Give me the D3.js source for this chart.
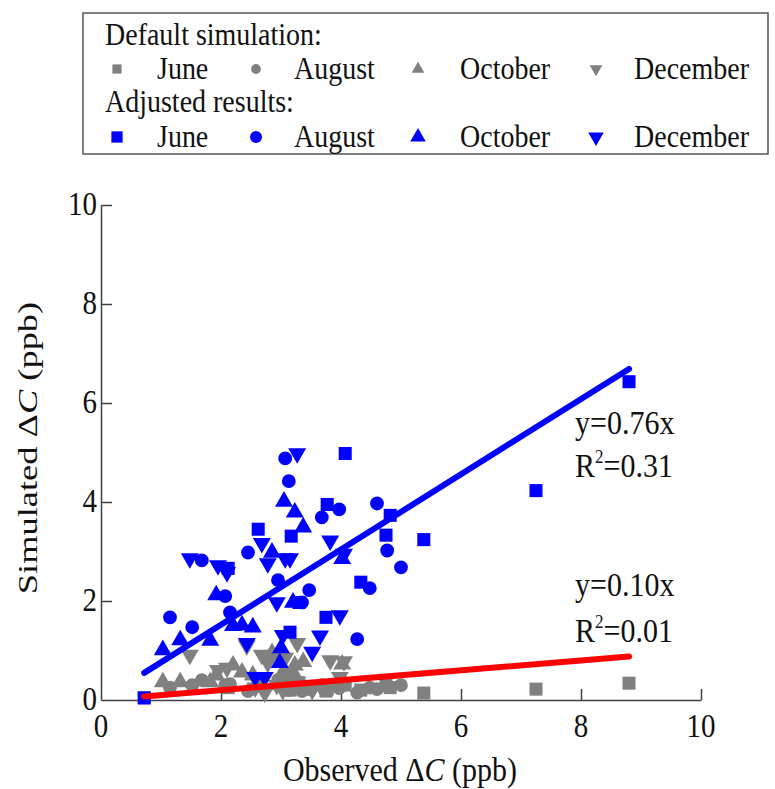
<!DOCTYPE html>
<html>
<head>
<meta charset="utf-8">
<script src="https://cdn.jsdelivr.net/npm/d3@7"></script>
<style>
  body { margin: 0; background: #fff; }
  text { font-family: "Liberation Serif", "Times New Roman", serif; fill: #111; }
</style>
</head>
<body>
<svg id="chart" width="775" height="789"></svg>
<script>
// observed, default simulated, adjusted simulated (ppb)
var juneObs      = [8.8, 7.25, 5.38, 4.82, 4.75, 4.33, 4.07, 3.77, 3.75, 3.17, 3.15, 2.62, 2.12, 3.3, 0.72];
var juneDefault  = [0.34, 0.22, 0.14, 0.25, 0.3, 0.2, 0.3, 0.22, 0.18, 0.3, 0.2, 0.28, 0.25, 0.35, 0.05];
var juneAdjusted = [6.43, 4.23, 3.24, 3.73, 3.33, 2.38, 4.98, 3.95, 1.67, 3.31, 1.37, 3.45, 2.66, 1.97, 0.04];

var augObs      = [3.07, 3.13, 4.6, 3.97, 3.68, 4.77, 5.0, 2.45, 2.95, 4.48, 3.47, 1.68, 2.07, 3.35, 2.15, 1.15, 1.52, 4.27];
var augDefault  = [0.35, 0.2, 0.22, 0.24, 0.3, 0.28, 0.3, 0.18, 0.4, 0.25, 0.22, 0.4, 0.3, 0.18, 0.32, 0.25, 0.3, 0.15];
var augAdjusted = [4.88, 4.42, 3.97, 3.85, 3.69, 3.02, 2.68, 2.98, 2.42, 2.26, 2.22, 2.82, 2.1, 1.97, 1.77, 1.67, 1.47, 1.23];

var octObs      = [3.05, 3.23, 3.37, 4.02, 2.85, 1.92, 3.2, 2.35, 2.53, 1.32, 1.03, 3.0, 2.98, 1.82, 2.2];
var octDefault  = [0.6, 0.7, 0.77, 0.72, 0.95, 0.5, 0.56, 0.56, 0.5, 0.36, 0.36, 0.45, 0.3, 0.36, 0.7];
var octAdjusted = [4.01, 3.79, 3.49, 2.85, 2.98, 2.12, 1.97, 1.51, 1.47, 1.21, 1.01, 1.05, 0.75, 1.2, 1.5];

var decObs      = [3.27, 3.82, 4.05, 3.07, 3.15, 2.68, 2.78, 1.48, 1.95, 2.1, 2.93, 3.98, 2.43, 3.52, 2.57, 2.73, 3.65, 3.03];
var decDefault  = [1.15, 0.8, 0.78, 0.85, 0.4, 0.91, 0.75, 0.91, 0.6, 0.65, 0.3, 0.46, 1.1, 0.2, 0.25, 0.15, 0.3, 0.2];
var decAdjusted = [4.98, 3.22, 2.95, 2.86, 2.86, 3.17, 2.76, 2.86, 2.72, 2.58, 1.97, 1.71, 1.15, 0.97, 0.46, 0.46, 1.3, 1.31];

var months = ["June", "August", "October", "December"];
var fitSlopes = [0.10, 0.76];
var fitR2 = ["0.01", "0.31"];
var fitRange = [0.72, 8.8];
var xTicks = [0, 2, 4, 6, 8, 10];
var yTicks = [0, 2, 4, 6, 8, 10];

var svg = d3.select("#chart");
var x = d3.scaleLinear().domain([0, 10]).range([101, 701]);
var y = d3.scaleLinear().domain([0, 10]).range([700, 205]);
var K = 1.15; // the source figure's text is a little taller than wide

var shapes = [d3.symbolSquare, d3.symbolCircle, d3.symbolTriangle, d3.symbolTriangle];
var rot = [0, 0, 0, 180];
var sizes = [170, 150, 140, 140];
var gray = "#808080", blue = "#0000ff", axisCol = "#404040";

var series = [
  {obs: juneObs, def: juneDefault, adj: juneAdjusted},
  {obs: augObs, def: augDefault, adj: augAdjusted},
  {obs: octObs, def: octDefault, adj: octAdjusted},
  {obs: decObs, def: decDefault, adj: decAdjusted}
];

function label(px, py, size, anchor) {
  return svg.append("text")
    .attr("transform", "translate(" + px + "," + py + ") scale(1," + K + ")")
    .attr("text-anchor", anchor || "start")
    .style("font-size", size + "px");
}

// axes (labels drawn separately)
var xAxis = d3.axisBottom(x).tickValues(xTicks).tickSizeInner(-11).tickSizeOuter(0).tickFormat("");
var gx = svg.append("g").attr("transform", "translate(0,700)").call(xAxis);
var yAxis = d3.axisLeft(y).tickValues(yTicks).tickSizeInner(-11).tickSizeOuter(0).tickFormat("");
var gy = svg.append("g").attr("transform", "translate(101,0)").call(yAxis);
[gx, gy].forEach(function(g) {
  g.select(".domain").attr("stroke", axisCol).attr("stroke-width", 1.5);
  g.selectAll(".tick line").attr("stroke", axisCol).attr("stroke-width", 1.5);
});
gx.selectAll(".tick").filter(function(d) { return d === 0; }).select("line").remove();
gy.selectAll(".tick").filter(function(d) { return d === 0; }).select("line").remove();

xTicks.forEach(function(t) { label(x(t), 737, 29, "middle").text(t); });
yTicks.forEach(function(t) { label(97, y(t) + 10, 29, "end").text(t); });

// points: default then adjusted
function drawPoints(key, color) {
  series.forEach(function(s, i) {
    svg.append("g").selectAll("path")
      .data(s.obs.map(function(o, j) { return [o, s[key][j]]; }))
      .enter().append("path")
      .attr("d", d3.symbol().type(shapes[i]).size(sizes[i]))
      .attr("transform", function(d) {
        return "translate(" + x(d[0]) + "," + y(d[1]) + ") rotate(" + rot[i] + ")";
      })
      .attr("fill", color);
  });
}
drawPoints("def", gray);
drawPoints("adj", blue);

// fit lines
var fitColors = ["#ff0000", "#0000ff"];
fitSlopes.forEach(function(k, i) {
  svg.append("line")
    .attr("x1", x(fitRange[0])).attr("y1", y(k * fitRange[0]))
    .attr("x2", x(fitRange[1])).attr("y2", y(k * fitRange[1]))
    .attr("stroke", fitColors[i]).attr("stroke-width", 6).attr("stroke-linecap", "round");
});

// equations
var eqY = [[596, 642], [434, 477]];
fitSlopes.forEach(function(k, i) {
  label(575, eqY[i][0], 30).text("y=" + k.toFixed(2) + "x");
  var t = label(575, eqY[i][1], 30);
  t.append("tspan").text("R");
  t.append("tspan").attr("dy", -12).style("font-size", "17px").text("2");
  t.append("tspan").attr("dy", 12).text("=" + fitR2[i]);
});

// axis titles
var xt = label(400, 781, 30, "middle");
xt.append("tspan").text("Observed \u0394");
xt.append("tspan").style("font-style", "italic").text("C");
xt.append("tspan").text(" (ppb)");
var yt = svg.append("text").attr("transform", "translate(37,448) scale(1,1.3) rotate(-90)")
  .attr("text-anchor", "middle").style("font-size", "28px");
yt.append("tspan").text("Simulated \u0394");
yt.append("tspan").style("font-style", "italic").text("C");
yt.append("tspan").text(" (ppb)");

// legend
svg.append("rect").attr("x", 83).attr("y", 13).attr("width", 685).attr("height", 141)
  .attr("fill", "none").attr("stroke", "#555").attr("stroke-width", 1.5);
var legMarkX = [117, 256, 418, 596];
var legTextX = [157, 294, 460, 634];
var legRows = [
  {title: "Default simulation:", ty: 45, ry: 79, color: gray, scale: 0.5},
  {title: "Adjusted results:", ty: 112, ry: 147, color: blue, scale: 0.75}
];
legRows.forEach(function(r) {
  label(105, r.ty, 28).text(r.title);
  months.forEach(function(m, i) {
    svg.append("path")
      .attr("d", d3.symbol().type(shapes[i]).size(sizes[i] * r.scale))
      .attr("transform", "translate(" + legMarkX[i] + "," + (r.ry - 10) + ") rotate(" + rot[i] + ")")
      .attr("fill", r.color);
    label(legTextX[i], r.ry, 28).text(m);
  });
});
</script>
</body>
</html>
